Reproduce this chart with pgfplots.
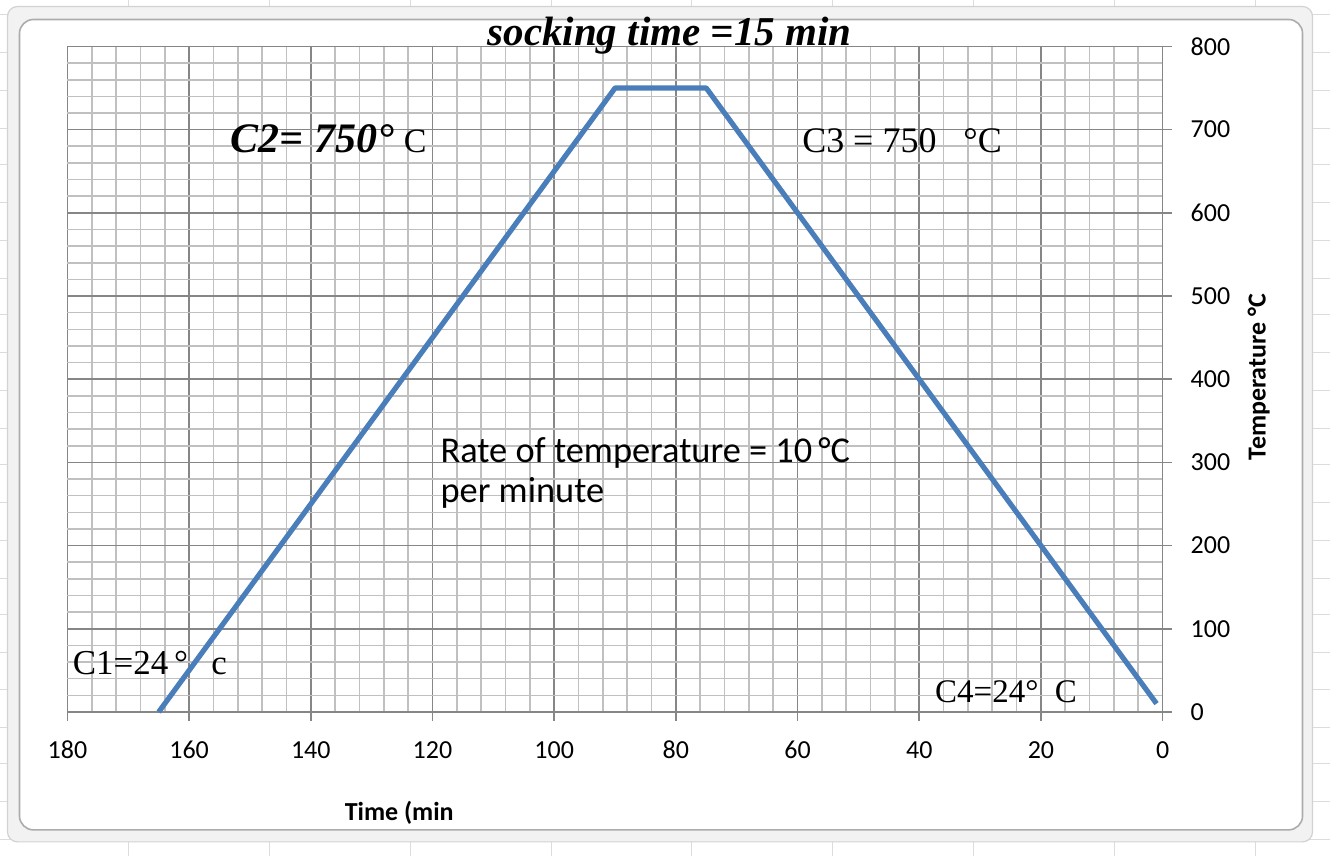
\documentclass[border=0pt]{standalone}
\usepackage{fontspec}
\setmainfont{Carlito}
\newfontfamily\tnr{Liberation Serif}
\usepackage{pgfplots}
\pgfplotsset{compat=1.18}
\definecolor{lineblue}{RGB}{74,126,187}
\definecolor{majgrid}{RGB}{134,134,134}
\definecolor{mingrid}{RGB}{192,192,192}
\definecolor{sheet}{RGB}{218,220,224}
\begin{document}
\begin{tikzpicture}
\begin{scope}[shift={(-33.5pt,-72pt)}, x=1pt, y=1pt]
\fill[white] (0,0) rectangle (665,428);
% spreadsheet cell lines behind the chart
\foreach \xx in {64,134.5,205,275.5,346,416.5,487,557.5,628} {\draw[sheet,line width=0.5pt] (\xx,0) -- (\xx,428);}
\foreach \yy in {8,27,46,64,83,102,121,139,158,177,196,214,233,252,271,289,308,327,346,364,383,402,421} {\draw[sheet,line width=0.5pt] (0,\yy) -- (665,\yy);}
% chart frame
\filldraw[fill=gray!10, draw=gray!35, line width=0.6pt, rounded corners=5pt] (3.5,7) rectangle (656.5,425);
\filldraw[fill=white, draw=gray!65, line width=0.8pt, rounded corners=7pt] (9.5,13) rectangle (651.5,418.5);
\end{scope}
\begin{axis}[
  scale only axis, width=548pt, height=333pt,
  x dir=reverse,
  xmin=0, xmax=180, ymin=0, ymax=800,
  axis x line*=bottom, axis y line*=right,
  axis line style={majgrid, line width=0.8pt},
  xtick={0,20,...,180}, ytick={0,100,...,800},
  minor x tick num=4, minor y tick num=4,
  grid=both,
  major grid style={majgrid, line width=0.8pt},
  minor grid style={mingrid, line width=0.8pt},
  tick align=outside, major tick length=4.5pt, minor tick length=0pt,
  tick style={majgrid, line width=0.8pt},
  /pgf/number format/assume math mode=true,
  ticklabel style={font=\fontsize{13}{15}\selectfont},
  xticklabel style={anchor=base, yshift=-19pt},
  yticklabel style={anchor=west, xshift=6pt},
  clip=false,
]
\addplot[lineblue, line width=2.6pt, line join=round] coordinates {
  (165,0) (90,750) (75,750) (1,10)
};
\end{axis}
\begin{scope}[shift={(-33.5pt,-72pt)}, x=1pt, y=1pt]
% title and annotations
\node[anchor=base, inner sep=0] at (334.75,405.5) {\tnr\fontsize{20.5}{24}\selectfont\bfseries\itshape socking time =15 min};
\node[anchor=base west, inner sep=0] at (115,352) {\tnr{\fontsize{21}{24}\selectfont\bfseries\itshape C2= 750°}\ \ {\fontsize{17}{20}\selectfont C}};
\node[anchor=base west, inner sep=0] at (401,352) {\tnr\fontsize{18}{21}\selectfont C3 = 750 \ \ °C};
\node[anchor=base west, inner sep=0] at (36,90.5) {\tnr\fontsize{17.5}{20}\selectfont C1=24\,°\ \ \,c};
\node[anchor=base west, inner sep=0] at (467.5,76.5) {\tnr\fontsize{16.5}{20}\selectfont C4=24° \ C};
\node[anchor=base west, inner sep=0] at (220,197) {\fontsize{18.2}{20}\selectfont Rate of temperature = 10\,°C};
\node[anchor=base west, inner sep=0] at (220,177) {\fontsize{18.2}{20}\selectfont per minute};
\node[inner sep=0] at (199.5,21.5) {\fontsize{13}{15}\selectfont\bfseries Time (min};
\node[inner sep=0, rotate=90] at (629.5,239.5) {\fontsize{13}{15}\selectfont\bfseries Temperature °C};
\end{scope}
\end{tikzpicture}
\end{document}
